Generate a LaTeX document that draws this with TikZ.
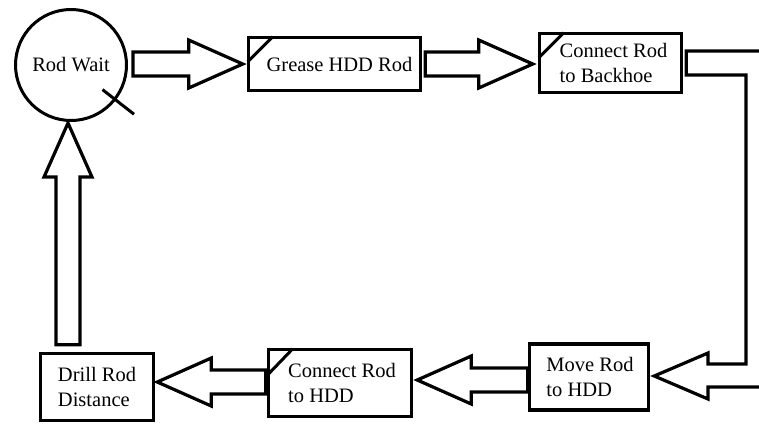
\documentclass[tikz,border=0pt]{standalone}
\usepackage{fontspec}
\setmainfont{Liberation Serif}
\usetikzlibrary{calc}

\begin{document}
\begin{tikzpicture}[
        x=1pt, y=-1pt,
        box/.style={
            draw, line width=3.5pt, align=left,
            font=\fontsize{20.5}{25}\selectfont, inner sep=0pt
        },
        slash/.style={line width=3pt},
        blk/.style={
            draw, line width=3.2pt,
            to path={
                let \p1=(\tikztostart), \p2=(\tikztotarget),
                    \n1={atan2(\y2-\y1,\x2-\x1)} in
                ($(\p1)+(\n1+90:12pt)$)
                -- ($(\p2)+(\n1:-54pt)+(\n1+90:12pt)$)
                -- ($(\p2)+(\n1:-54pt)+(\n1+90:24pt)$)
                -- (\p2)
                -- ($(\p2)+(\n1:-54pt)+(\n1-90:24pt)$)
                -- ($(\p2)+(\n1:-54pt)+(\n1-90:12pt)$)
                -- ($(\p1)+(\n1-90:12pt)$) -- cycle
            }
        }
    ]
    \useasboundingbox (0,0) rectangle (759,424);
    \clip (0,0) rectangle (759,424);

    % Rod Wait
    \node[circle, draw, line width=3pt, minimum size=111pt, inner sep=0pt,
          font=\fontsize{20.5}{25}\selectfont] (rw) at (71,65) {Rod Wait};
    \draw[slash] ($(rw.center)+(38:40)$) -- ($(rw.center)+(38:80)$);

    % Grease HDD Rod
    \node[box, minimum width=172pt, minimum height=53pt] (gr) at (334.5,64)
        {\hspace*{10pt}Grease HDD Rod};
    \draw[slash] ($(gr.north west)+(1,26)$) -- ($(gr.north west)+(26,1)$);

    % Connect Rod to Backhoe
    \node[box, minimum width=142pt, minimum height=59pt] (cb) at (610.5,63)
        {\hspace*{6pt}Connect Rod\\\hspace*{6pt}to Backhoe};
    \draw[slash] ($(cb.north west)+(1,26)$) -- ($(cb.north west)+(26,1)$);

    % Move Rod to HDD
    \node[box, minimum width=119pt, minimum height=66pt] (mr) at (589,377)
        {\hspace*{2pt}Move Rod\\\hspace*{2pt}to HDD};

    % Connect Rod to HDD
    \node[box, minimum width=143pt, minimum height=67pt] (chd) at (340,383)
        {\hspace*{4pt}Connect Rod\\\hspace*{4pt}to HDD};
    \draw[slash] ($(chd.north west)+(1,27)$) -- ($(chd.north west)+(26,1)$);

    % Drill Rod Distance
    \node[box, minimum width=113pt, minimum height=67pt] (dr) at (97,387)
        {Drill Rod\\Distance};

    % block arrows
    \draw[blk] ($(rw.east)+(5,-1)$) to ($(gr.west)+(-4,0)$);
    \draw[blk] ($(gr.east)+(3,0)$) to ($(cb.west)+(-5,1)$);
    \draw[line width=3.2pt]
        ($(cb.east)+(3,-12)$) -- (772,51) -- (772,387) -- (708,387)
        -- (708,399) -- ($(mr.east)+(4,-1)$) -- (708,353) -- (708,364)
        -- (746,364) -- (746,75) -- ($(cb.east)+(3,12)$) -- cycle;
    \draw[blk] ($(mr.west)+(0,3)$) to ($(chd.east |- mr.west)+(4,3)$);
    \draw[blk] ($(chd.west)+(-1,-1)$) to ($(dr.east |- chd.west)+(2,-1)$);
    \draw[blk] ($(dr.north -| rw.south)+(-3,-7)$) to ($(rw.south)+(-3,1)$);

\end{tikzpicture}
\end{document}
